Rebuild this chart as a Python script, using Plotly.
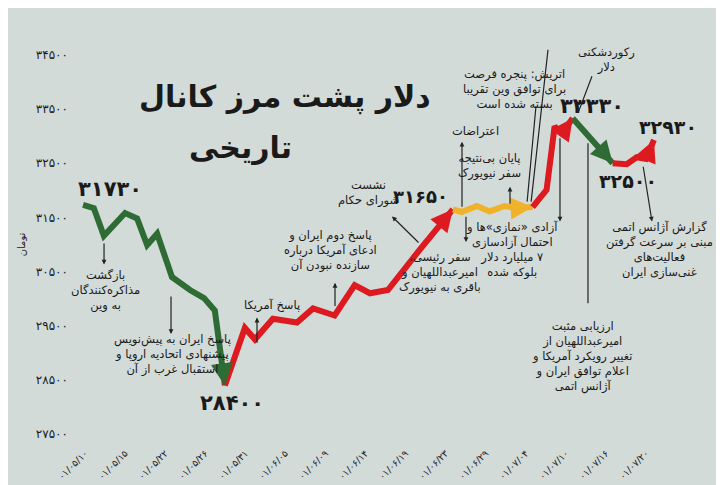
import plotly.graph_objects as go

FA = str.maketrans("0123456789", "۰۱۲۳۴۵۶۷۸۹")
def fa(s): return str(s).translate(FA)

dates = ["01/05/10","01/05/15","01/05/22","01/05/26","01/05/31","01/06/05","01/06/09",
         "01/06/14","01/06/19","01/06/23","01/06/29","01/07/04","01/07/10","01/07/16","01/07/20"]
y_ticks = [27500, 28500, 29500, 30500, 31500, 32500, 33500, 34500]

# segment 1: fall (green)
x_fall1 = [-0.05, 0.22, 0.47, 1.0, 1.3, 1.55, 1.8, 2.17, 2.62, 2.97, 3.24, 3.49]
v_fall1 = [31730, 31670, 31160, 31580, 31480, 30990, 31200, 30400, 30160, 30010, 29780, 28400]
# segment 2: rise (red)
x_rise1 = [3.49, 3.99, 4.24, 4.69, 5.29, 5.69, 6.23, 6.73, 7.11, 7.56, 8.35, 9.18]
v_rise1 = [28400, 29460, 29250, 29630, 29560, 29820, 29690, 30250, 30100, 30160, 30900, 31650]
# segment 3: flat (yellow)
x_flat = [9.18, 9.4, 9.78, 10.1, 10.47, 10.77, 11.17]
v_flat = [31650, 31600, 31710, 31610, 31710, 31670, 31690]
# segment 4: rise (red)
x_rise2 = [11.17, 11.52, 11.72, 11.9, 12.17]
v_rise2 = [31690, 32010, 33180, 33050, 33330]
# segment 5: fall (green)
x_fall2 = [12.17, 12.52, 13.17]
v_fall2 = [33330, 33050, 32500]
# segment 6: rise (red)
x_rise3 = [13.17, 13.52, 13.77, 14.0, 14.2]
v_rise3 = [32500, 32480, 32610, 32580, 32930]

GREEN, RED, YEL = "#2f6b35", "#dc1a1f", "#f0b22a"
segments = [(x_fall1, v_fall1, GREEN), (x_rise1, v_rise1, RED), (x_flat, v_flat, YEL),
            (x_rise2, v_rise2, RED), (x_fall2, v_fall2, GREEN), (x_rise3, v_rise3, RED)]

FONT = "DejaVu Sans"
RLM = "\u200f"
fig = go.Figure()
ann = []
for xs, vs, c in segments:
    fig.add_trace(go.Scatter(x=xs, y=vs, mode="lines", line=dict(color=c, width=6),
                             showlegend=False, hoverinfo="skip"))
    ann.append(dict(x=xs[-1], y=vs[-1], ax=xs[-2], ay=vs[-2], xref="x", yref="y",
                    axref="x", ayref="y", showarrow=True, arrowhead=2, arrowsize=1.1,
                    arrowwidth=4, arrowcolor=c, text=""))

def P(px, py):
    return (px - 85) / 40.07, 34500 - (py - 55) / 53 * 1000

def txt(px, py, t, size=11.5, bold=False):
    x, y = P(px, py)
    lines = [RLM + l + RLM for l in t.split("<br>")]
    t = "<br>".join(lines)
    ann.append(dict(x=x, y=y, text=("<b>%s</b>" % t) if bold else t, showarrow=False,
                    font=dict(family=FONT, size=size, color="#1a1a1a"), align="center"))

def arr(x0, y0, x1, y1, head=True):
    a, b = P(x1, y1); c, d = P(x0, y0)
    ann.append(dict(x=a, y=b, ax=c, ay=d, axref="x", ayref="y", showarrow=True,
                    arrowhead=2 if head else 0, arrowsize=0.8, arrowwidth=1.2,
                    arrowcolor="#222", text=""))

# value labels
txt(110, 186, fa("31730"), 21, True)
txt(232, 396, fa("28400"), 21, True)
txt(420, 194, fa("31650"), 18, True)
txt(592, 105, fa("33330"), 21, True)
txt(628, 178, fa("32500"), 19, True)
txt(668, 126, fa("32930"), 19, True)

# title
txt(285, 96, "دلار پشت مرز کانال", 30, True)
txt(240, 146, "تاریخی", 30, True)

# events
txt(105, 285, "بازگشت<br>مذاکره‌کنندگان<br>به وین")
arr(104, 238, 104, 260)
txt(172, 348, "پاسخ ایران به پیش‌نویس<br>پیشنهادی اتحادیه اروپا و<br>استقبال غرب از آن")
arr(171, 290, 171, 328)
txt(272, 300, "پاسخ آمریکا")
arr(257, 338, 257, 312)
txt(330, 246, "پاسخ دوم ایران و<br>ادعای آمریکا درباره<br>سازنده نبودن آن")
arr(335, 302, 335, 278)
txt(368, 190, "نشست<br>شورای حکام")
arr(420, 240, 392, 213)
txt(440, 268, "سفر رئیسی،<br>امیرعبداللهیان و<br>باقری به نیویورک")
arr(466, 212, 466, 238)
txt(476, 130, "اعتراضات")
arr(462, 205, 462, 140)
txt(490, 164, "پایان بی‌نتیجه<br>سفر نیویورک")
arr(510, 202, 510, 184)
txt(515, 88, "اتریش: پنجره فرصت<br>برای توافق وین تقریبا<br>بسته شده است")
txt(455, 37, "وزیر خارجه آمریکا: هیچ چشم‌اندازی در آینده<br>خیلی نزدیک برای رسیدن به یک نتیجه نمی‌بینیم")
arr(527, 200, 536, 105, head=False)
arr(531, 200, 548, 50, head=False)
txt(607, 60, "رکوردشکنی<br>دلار")
arr(578, 112, 592, 76, head=False)
txt(512, 246, "آزادی «نمازی»ها و<br>احتمال آزادسازی<br>۷ میلیارد دلار<br>بلوکه شده")
arr(560, 135, 560, 218)
txt(582, 350, "ارزیابی مثبت<br>امیرعبداللهیان از<br>تغییر رویکرد آمریکا و<br>اعلام توافق ایران و<br>آژانس اتمی")
arr(588, 140, 588, 298, head=False)
txt(660, 246, "گزارش آژانس اتمی<br>مبنی بر سرعت گرفتن<br>فعالیت‌های<br>غنی‌سازی ایران")
arr(643, 163, 652, 218)

fig.update_layout(
    width=716, height=477, margin=dict(l=61, r=54, t=36, b=40, autoexpand=False),
    paper_bgcolor="#d3dbd9", plot_bgcolor="#d3dbd9",
    annotations=ann, font=dict(family=FONT, color="#1a1a1a"),
    xaxis=dict(range=[-0.4, 14.6], tickvals=list(range(len(dates))), automargin=False,
               ticktext=[fa(d) for d in dates], tickangle=-45, showgrid=False,
               zeroline=False, showline=False, tickfont=dict(size=9.5), fixedrange=True),
    yaxis=dict(range=[27300, 34700], tickvals=y_ticks, ticktext=[fa(v) for v in y_ticks],
               showgrid=False, zeroline=False, showline=False, tickfont=dict(size=12),
               automargin=False,
               title=dict(text="تومان", font=dict(size=10), standoff=8)),
)
fig.write_html("out.html")
